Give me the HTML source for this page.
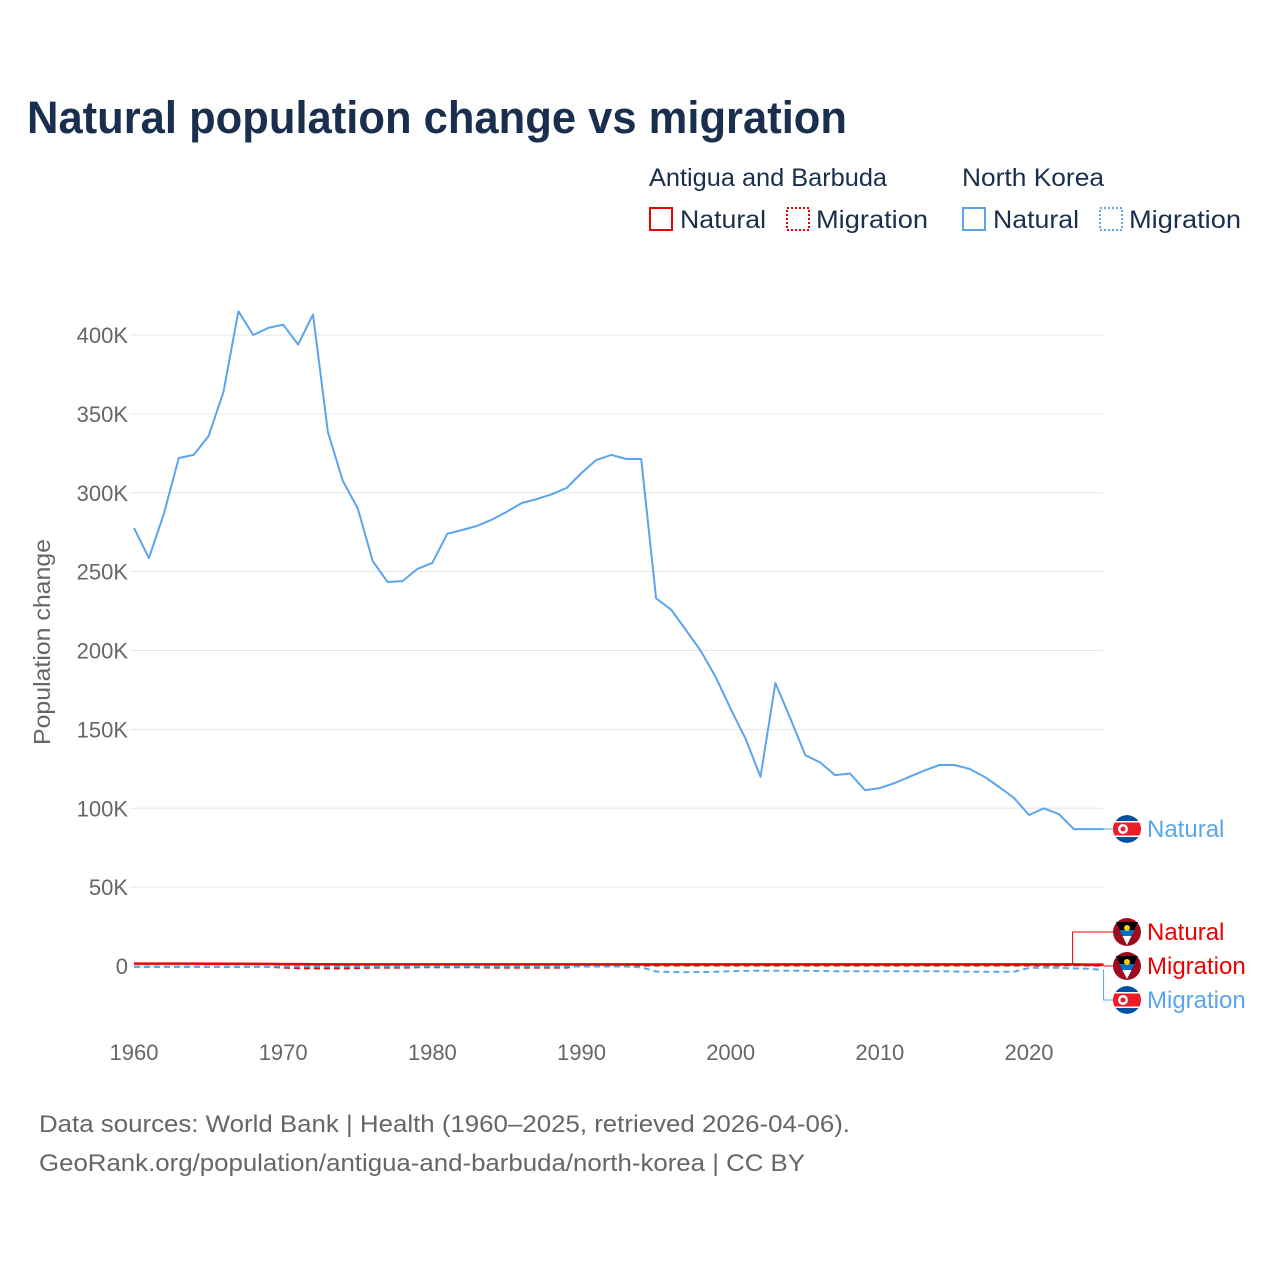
<!DOCTYPE html>
<html><head><meta charset="utf-8">
<style>
body{margin:0;background:#fff;font-family:"Liberation Sans",sans-serif;}
svg text{font-family:"Liberation Sans",sans-serif;}
</style></head>
<body>
<svg id="chart" width="1280" height="1280" viewBox="0 0 1280 1280" xmlns="http://www.w3.org/2000/svg">
<defs><clipPath id="fc1"><circle cx="1127" cy="829" r="14"/></clipPath><clipPath id="fc2"><circle cx="1127" cy="1000" r="14"/></clipPath></defs>
<rect width="1280" height="1280" fill="#fff"/>
<text x="27" y="133" font-size="45" font-weight="bold" fill="#1a2f4e" textLength="820" lengthAdjust="spacingAndGlyphs">Natural population change vs migration</text>
<g font-size="25" fill="#1a2f4e">
 <text x="649" y="186" textLength="238" lengthAdjust="spacingAndGlyphs">Antigua and Barbuda</text>
 <text x="962" y="186" textLength="142" lengthAdjust="spacingAndGlyphs">North Korea</text>
 <g><rect x="650" y="208" width="22" height="22" fill="none" stroke="#ee0000" stroke-width="2"/><text x="680" y="228" textLength="86" lengthAdjust="spacingAndGlyphs">Natural</text></g>
 <g><rect x="787" y="208" width="22" height="22" fill="none" stroke="#ee0000" stroke-width="2" stroke-dasharray="2,2"/><text x="816" y="228" textLength="112" lengthAdjust="spacingAndGlyphs">Migration</text></g>
 <g><rect x="963" y="208" width="22" height="22" fill="none" stroke="#5aa5ec" stroke-width="2"/><text x="993" y="228" textLength="86" lengthAdjust="spacingAndGlyphs">Natural</text></g>
 <g><rect x="1100" y="208" width="22" height="22" fill="none" stroke="#5aa5ec" stroke-width="2" stroke-dasharray="2,2"/><text x="1129" y="228" textLength="112" lengthAdjust="spacingAndGlyphs">Migration</text></g>
</g>
<g id="grid"></g>
<g id="series"></g>
<g id="labels"></g>
<text transform="translate(50,642) rotate(-90)" text-anchor="middle" font-size="23" fill="#666" textLength="206" lengthAdjust="spacingAndGlyphs">Population change</text>
<text x="39" y="1132" font-size="24" fill="#666" textLength="811" lengthAdjust="spacingAndGlyphs">Data sources: World Bank | Health (1960–2025, retrieved 2026-04-06).</text>
<text x="39" y="1171" font-size="24" fill="#666" textLength="766" lengthAdjust="spacingAndGlyphs">GeoRank.org/population/antigua-and-barbuda/north-korea | CC BY</text>
</svg>
<script>
const years=[];for(let y=1960;y<=2025;y++)years.push(y);
const nkNatural=[277.6,258.6,286.5,322,324,336,364,415,400,404.5,406.5,394,413,338.5,307.5,290,256.7,243.4,244,251.7,255.5,274,276.4,279,283,288,293.5,296,299,303,312.5,320.8,324,321.4,321.4,233,226,213,199.7,183,163,144,120,179.4,157,133.7,129,121,122,111.5,112.8,116,120,124,127.4,127.4,125,120,113.5,106.5,95.7,100,96.3,86.8,86.8,86.8];
const nkMigration=[-0.3,-0.3,-0.3,-0.3,-0.3,-0.3,-0.3,-0.3,-0.3,-0.3,-0.3,-0.3,-0.3,-0.3,-0.3,-0.3,-0.3,-0.3,-0.3,-0.3,-0.3,-0.3,-0.3,-0.3,-0.3,-0.3,-0.3,-0.3,-0.3,-0.3,-0.3,-0.3,-0.3,-0.3,-0.8,-3.5,-3.8,-3.9,-3.8,-3.6,-3.3,-3.1,-3.0,-3.0,-3.0,-3.0,-3.2,-3.3,-3.3,-3.3,-3.3,-3.3,-3.3,-3.3,-3.3,-3.5,-3.6,-3.6,-3.6,-3.6,-1.2,-1.0,-1.2,-1.5,-1.8,-2.5];
const abNatural=[1.5,1.5,1.5,1.5,1.5,1.4,1.4,1.4,1.3,1.3,1.2,1.2,1.1,1.1,1.0,1.0,1.0,1.0,1.0,1.0,1.0,1.0,1.0,1.0,1.0,1.0,1.0,1.0,1.0,1.0,1.0,1.0,1.0,1.0,1.0,1.0,1.0,1.0,1.0,1.0,1.0,1.0,1.0,1.0,1.0,1.0,1.0,1.0,1.0,1.0,1.0,1.0,1.0,1.0,1.0,1.0,1.0,1.0,1.0,1.0,1.0,1.0,1.0,1.0,0.9,0.9];
const abMigration=[-0.5,-0.5,-0.5,-0.5,-0.5,-0.5,-0.5,-0.5,-0.5,-0.5,-1.0,-1.3,-1.5,-1.5,-1.5,-1.3,-1.0,-1.0,-1.0,-0.8,-0.8,-0.8,-0.8,-0.8,-1.0,-1.0,-1.0,-1.0,-1.0,-1.0,0.2,0.2,0.3,0.3,0.3,0.3,0.3,0.3,0.3,0.3,0.3,0.3,0.3,0.3,0.3,0.3,0.3,0.3,0.3,0.3,0.3,0.3,0.3,0.3,0.3,0.3,0.3,0.3,0.3,0.3,0.3,0.3,0.3,0.5,0.4,0.2];
const yTicks=[0,50,100,150,200,250,300,350,400];
const xTicks=[1960,1970,1980,1990,2000,2010,2020];

const NS="http://www.w3.org/2000/svg";
const X=y=>134+(y-1960)*(1029-134)/60;
const Y=v=>966-v*631/400;
function mk(tag,attrs,parent){const e=document.createElementNS(NS,tag);for(const k in attrs)e.setAttribute(k,attrs[k]);parent.appendChild(e);return e;}
const grid=document.getElementById('grid'),series=document.getElementById('series'),labels=document.getElementById('labels');
yTicks.forEach(t=>{
 const l=mk('line',{x1:130,x2:1103,y1:Y(t),y2:Y(t),stroke:'#e6e6e6','stroke-width':1},grid);
 
 
 const tx=mk('text',{x:128,y:Y(t)+8,'text-anchor':'end','font-size':22,fill:'#666'},grid);
 tx.textContent=t===0?'0':t+'K';
 
 
});
xTicks.forEach(t=>{
 const tx=mk('text',{x:X(t),y:1060,'text-anchor':'middle','font-size':22,fill:'#666'},grid);
 tx.textContent=t;
 
 
});
function line(vals,color,dash,name,w){
 const d=vals.map((v,i)=>(i?'L':'M')+X(years[i]).toFixed(1)+','+Y(v).toFixed(1)).join('');
 const p=mk('path',{d:d,fill:'none',stroke:color,'stroke-width':w,'stroke-dasharray':dash,'stroke-linejoin':'round'},series);
 
 
}
line(abMigration,'#ee0000','6,4','line-ab-migration',2);
line(nkMigration,'#5aa5ec','6,4','line-nk-migration',2);
line(abNatural,'#ee0000','none','line-ab-natural',2.5);
line(nkNatural,'#5aa5ec','none','line-nk-natural',2);
const last=years.length-1, xe=X(years[last]);
function endLabel(val,ly,color,flag,text,name,vx,clip){
 const y0=Y(val);
 if(Math.abs(ly-y0)>3){mk('path',{d:`M${vx},${y0}V${ly}H1113`,stroke:color,fill:'none','stroke-width':1},labels);}
 else mk('path',{d:`M${xe},${ly}H1113`,stroke:color,fill:'none'},labels);
 const g=mk('g',{},labels);
 
 
 if(flag==='nk'){
  const f=mk('g',{'clip-path':'url(#'+clip+')'},g);
  mk('circle',{cx:1127,cy:ly,r:14,fill:'#024fa2'},f);
  mk('rect',{x:1111,y:ly-8,width:32,height:16,fill:'#fff'},f);
  mk('rect',{x:1111,y:ly-6.5,width:32,height:13,fill:'#ed1c27'},f);
  mk('circle',{cx:1123,cy:ly,r:5,fill:'#fff'},f);
  mk('circle',{cx:1123,cy:ly,r:2.5,fill:'#ed1c27'},f);
 } else {
  mk('circle',{cx:1127,cy:ly,r:14,fill:'#9e0b1e'},g);
  mk('path',{d:`M1116,${ly-10}L1138,${ly-10}L1127,${ly+13}Z`,fill:'#000'},g);
  mk('path',{d:`M1119.5,${ly-2}L1134.5,${ly-2}L1127,${ly+13}Z`,fill:'#0072c6'},g);
  mk('path',{d:`M1122.5,${ly+4}L1131.5,${ly+4}L1127,${ly+13}Z`,fill:'#fff'},g);
  mk('circle',{cx:1127,cy:ly-4,r:3,fill:'#fcd116'},g);
 }
 const t=mk('text',{x:1147,y:ly+8,'font-size':24,fill:color},g);
 t.textContent=text;
}
endLabel(nkNatural[last],829,'#5aa5ec','nk','Natural','end-label-nk-natural',xe,'fc1');
endLabel(abNatural[last],932,'#ee0000','ab','Natural','end-label-ab-natural',xe-31,'');
endLabel(abMigration[last],966,'#ee0000','ab','Migration','end-label-ab-migration',xe,'');
endLabel(nkMigration[last],1000,'#5aa5ec','nk','Migration','end-label-nk-migration',xe,'fc2');
</script>
</body></html>
